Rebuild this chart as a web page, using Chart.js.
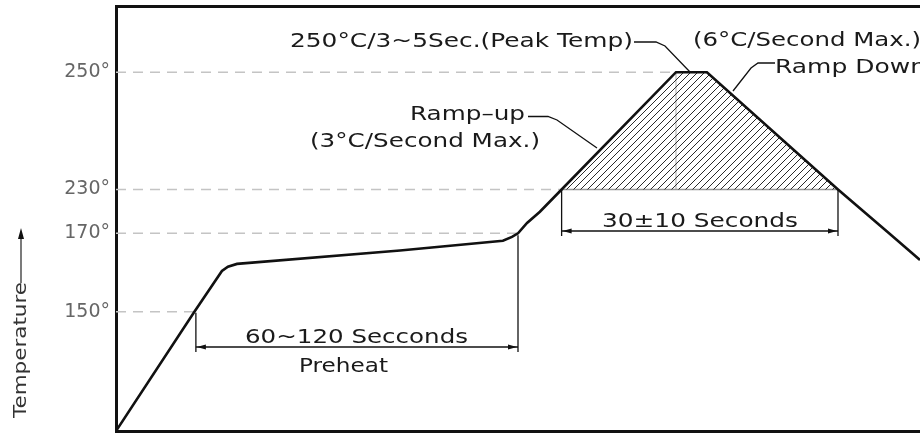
<!DOCTYPE html>
<html><head><meta charset="utf-8">
<script src="https://cdn.jsdelivr.net/npm/chart.js@4.4.1/dist/chart.umd.min.js"></script>
<style>html,body{margin:0;padding:0;background:#fff;} #wrap{width:920px;height:433px;position:relative;}</style>
</head><body><div id="wrap"><canvas id="c"></canvas></div>
<script>
// ---- data (time in schematic units, temperature in °C) ----
const profileTime = [0, 39, 52.7, 55.7, 60.2, 141.3, 192.5, 197, 200, 204.5, 210.9, 221.7, 278.6, 294, 359.2, 384.6, 400];
const profileTemp = [25, 150, 160.4, 161.5, 162.2, 165.6, 168.1, 169.1, 170, 184.1, 199.5, 230, 250, 250, 230, 170, 163.2];
const tickTemps = [150, 170, 230, 250];
const tickLabels = ['150°', '170°', '230°', '250°'];
const refLineEnd = [39, 200, 221.7, 278.6];   // time where each dashed level meets the profile
const peakTime = [221.7, 278.6, 294, 359.2];
const peakTemp = [230, 250, 250, 230];
const preheatSpan = [39, 200];
const reflowSpan = [221.7, 359.2];

// schematic (non-linear) temperature axis: [temperature, fraction of plot height]
const Y_BREAKS = [[25, 0], [150, 0.281], [170, 0.4657], [230, 0.5689], [250, 0.8452], [262, 1]];

class PiecewiseScale extends Chart.LinearScale {
  static id = 'piecewise';
  static defaults = Chart.LinearScale.defaults;
  _frac(v) {
    const b = Y_BREAKS;
    for (let i = 1; i < b.length; i++) {
      if (v <= b[i][0] || i === b.length - 1) {
        const [t0, f0] = b[i - 1], [t1, f1] = b[i];
        return f0 + (v - t0) * (f1 - f0) / (t1 - t0);
      }
    }
  }
  getPixelForValue(v) { return this.bottom - this._frac(v) * (this.bottom - this.top); }
  getValueForPixel(p) {
    const f = (this.bottom - p) / (this.bottom - this.top), b = Y_BREAKS;
    for (let i = 1; i < b.length; i++) {
      if (f <= b[i][1] || i === b.length - 1) {
        const [t0, f0] = b[i - 1], [t1, f1] = b[i];
        return t0 + (f - f0) * (t1 - t0) / (f1 - f0);
      }
    }
  }
}
Chart.register(PiecewiseScale);

function makeHatch() {
  const c = document.createElement('canvas'); c.width = 7; c.height = 7;
  const g = c.getContext('2d');
  g.strokeStyle = '#2a2a2a'; g.lineWidth = 1;
  g.beginPath();
  g.moveTo(-1, 8); g.lineTo(8, -1);
  g.moveTo(-1, 1); g.lineTo(1, -1);
  g.moveTo(6, 8); g.lineTo(8, 6);
  g.stroke();
  return g.createPattern(c, 'repeat');
}

const pts = (xs, ys) => xs.map((t, i) => ({ x: t, y: ys[i] }));

const datasets = [
  { data: pts(profileTime, profileTemp), borderColor: '#111', borderWidth: 2.6, pointRadius: 0, tension: 0, fill: false },
  { data: pts(peakTime, peakTemp), borderWidth: 0, pointRadius: 0, fill: { value: 230 }, backgroundColor: makeHatch() },
  { data: pts([peakTime[0], peakTime[3]], [230, 230]), borderColor: '#999', borderWidth: 1.5, pointRadius: 0 },
  { data: pts([peakTime[1], peakTime[1]], [230, 250]), borderColor: '#aaa', borderWidth: 1, pointRadius: 0 }
];
tickTemps.forEach((T, i) => datasets.push({
  data: pts([0, refLineEnd[i]], [T, T]), borderColor: '#c4c4c4', borderWidth: 1.5,
  borderDash: [10, 7], pointRadius: 0
}));
datasets.forEach(d => { d.xAxisID = 'x'; d.yAxisID = 'y'; });

const FONT = '"DejaVu Sans"';
const annot = {
  id: 'annot',
  afterDatasetsDraw(chart) {
    const { ctx, scales: { x, y } } = chart;
    ctx.save();
    const T = (s, l, b, r, size = 20, color = '#1a1a1a') => {
      ctx.font = size + 'px ' + FONT; ctx.fillStyle = color;
      ctx.textBaseline = 'alphabetic'; ctx.textAlign = 'left';
      const w = ctx.measureText(s).width;
      ctx.save(); ctx.translate(l, b); ctx.scale((r - l) / w, 1); ctx.fillText(s, 0, 0); ctx.restore();
    };
    const P = (p, w = 1.3, color = '#111') => {
      ctx.beginPath(); ctx.lineWidth = w; ctx.strokeStyle = color;
      p.forEach(([a, b], i) => i ? ctx.lineTo(a, b) : ctx.moveTo(a, b)); ctx.stroke();
    };
    const head = (tx, ty, dx, dy, len = 9, hw = 2.6) => {
      ctx.beginPath(); ctx.fillStyle = '#111';
      ctx.moveTo(tx, ty);
      ctx.lineTo(tx - dx * len - dy * hw, ty - dy * len + dx * hw);
      ctx.lineTo(tx - dx * len + dy * hw, ty - dy * len - dx * hw);
      ctx.closePath(); ctx.fill();
    };
    // texts
    T('250°C/3~5Sec.(Peak Temp)', 290, 46.5, 633);
    T('(6°C/Second Max.)', 693, 46, 921);
    T('Ramp Down', 775, 72.5, 926);
    T('Ramp–up', 410, 120, 525);
    T('(3°C/Second Max.)', 310, 146.5, 540);
    T('30±10 Seconds', 602, 227, 798);
    T('60~120 Secconds', 245, 343, 468);
    T('Preheat', 299, 371.5, 388);
    // leaders
    P([[634, 42], [656, 42], [665, 46], [690, 72]]);
    P([[775, 63], [758, 63], [751, 68], [733, 91]]);
    P([[528, 116.5], [548, 116.5], [557, 120], [597, 148]]);
    // preheat dimension
    const pL = x.getPixelForValue(preheatSpan[0]) + 1.5, pR = x.getPixelForValue(preheatSpan[1]);
    P([[pL, y.getPixelForValue(150) + 1], [pL, 352]], 1.3);
    P([[pR, y.getPixelForValue(170) + 2], [pR, 352]], 1.3);
    P([[pL, 347], [pR, 347]], 1.3);
    head(pL + 1, 347, -1, 0); head(pR - 1, 347, 1, 0);
    // reflow dimension
    const rL = x.getPixelForValue(reflowSpan[0]), rR = x.getPixelForValue(reflowSpan[1]);
    const yb = y.getPixelForValue(230);
    P([[rL, yb], [rL, 236]], 1.3); P([[rR, yb], [rR, 236]], 1.3);
    P([[rL, 231], [rR, 231]], 1.3);
    head(rL + 1, 231, -1, 0); head(rR - 1, 231, 1, 0);
    // y title with arrow
    ctx.font = '18px ' + FONT; ctx.fillStyle = '#333';
    const tw = ctx.measureText('Temperature').width;
    ctx.save(); ctx.translate(26, 418); ctx.rotate(-Math.PI / 2); ctx.scale(136 / tw, 1);
    ctx.fillText('Temperature', 0, 0); ctx.restore();
    P([[21, 283], [21, 236]], 1.3, '#333');
    head(21, 228, 0, -1, 11, 3);
    ctx.restore();
  }
};

const noTicks = { display: false };
new Chart(document.getElementById('c'), {
  type: 'line',
  data: { datasets },
  options: {
    responsive: true, maintainAspectRatio: false, animation: false,
    layout: { padding: 0 },
    plugins: { legend: { display: false }, tooltip: { enabled: false } },
    scales: {
      x: {
        type: 'linear', position: 'bottom', min: 0, max: 400,
        ticks: noTicks, grid: { display: false, drawTicks: false },
        border: { display: true, color: '#111', width: 3 },
        afterFit: s => { s.height = 2; s.paddingLeft = 0; s.paddingRight = 0; }
      },
      xTop: {
        type: 'linear', position: 'top', min: 0, max: 400,
        ticks: noTicks, grid: { display: false, drawTicks: false },
        border: { display: true, color: '#111', width: 3 },
        afterFit: s => { s.height = 6.5; s.paddingLeft = 0; s.paddingRight = 0; }
      },
      y: {
        type: 'piecewise', position: 'left', min: 25, max: 262,
        afterBuildTicks: s => { s.ticks = tickTemps.map(v => ({ value: v })); },
        ticks: {
          autoSkip: false, padding: 6, color: '#666',
          font: { family: 'DejaVu Sans', size: 19 },
          callback: v => { const i = tickTemps.indexOf(v); return i >= 0 ? tickLabels[i] : ''; }
        },
        grid: { display: false, drawTicks: false },
        border: { display: true, color: '#111', width: 3 },
        afterFit: s => { s.width = 116; s.paddingTop = 0; s.paddingBottom = 0; }
      }
    }
  },
  plugins: [annot]
});
</script></body></html>
